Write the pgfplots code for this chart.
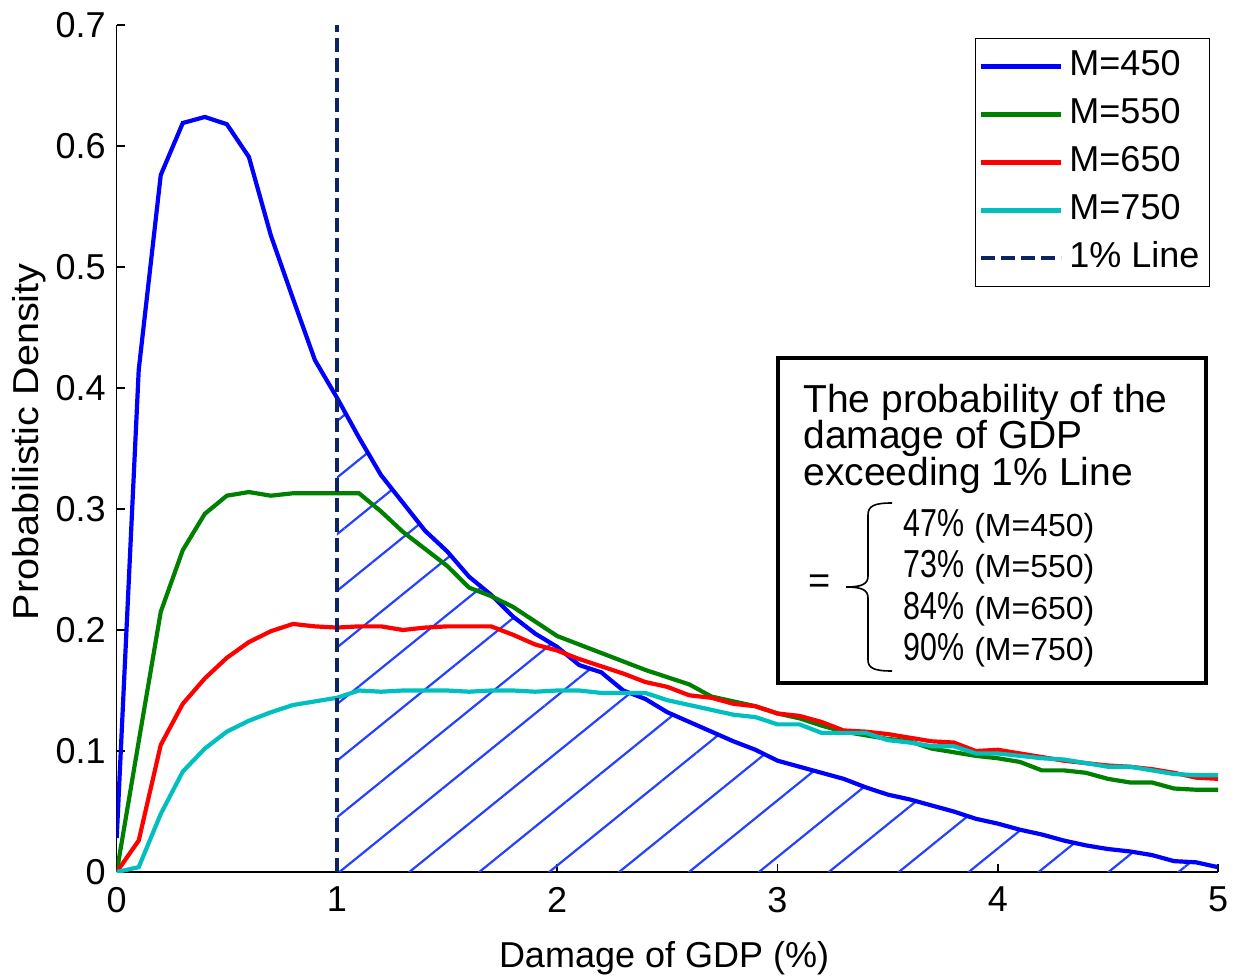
\documentclass[border=0pt]{standalone}
\usepackage{fontspec}
\setmainfont{Liberation Sans}
\newfontfamily\narrowfont[FakeStretch=0.78]{Liberation Sans}
\newfontfamily\ylfont[FakeStretch=1.1]{Liberation Sans}
\usepackage{pgfplots}
\usepackage{pgfplotstable}
\pgfplotsset{compat=1.18}
\usepgfplotslibrary{fillbetween}
\usetikzlibrary{patterns.meta}
\definecolor{cblue}{rgb}{0,0,1}
\definecolor{cgreen}{rgb}{0,0.5,0}
\definecolor{cred}{rgb}{1,0,0}
\definecolor{ccyan}{rgb}{0,0.75,0.75}
\definecolor{navy}{RGB}{12,35,100}
\definecolor{hatchc}{RGB}{35,65,255}

\pgfplotstableread{
x y
0.0 0.028
0.1 0.415
0.2 0.576
0.3 0.619
0.4 0.624
0.5 0.618
0.6 0.591
0.7 0.526
0.8 0.474
0.9 0.423
1.0 0.392
1.1 0.359
1.2 0.328
1.3 0.305
1.4 0.282
1.5 0.265
1.6 0.244
1.7 0.229
1.8 0.211
1.9 0.197
2.0 0.186
2.1 0.171
2.2 0.165
2.3 0.150
2.4 0.143
2.5 0.132
2.6 0.124
2.7 0.116
2.8 0.108
2.9 0.101
3.0 0.092
3.1 0.087
3.2 0.082
3.3 0.077
3.4 0.070
3.5 0.064
3.6 0.060
3.7 0.055
3.8 0.050
3.9 0.044
4.0 0.040
4.1 0.035
4.2 0.031
4.3 0.026
4.4 0.022
4.5 0.019
4.6 0.017
4.7 0.014
4.8 0.009
4.9 0.008
5.0 0.004
}\tblA

\pgfplotstableread{
x y
0.0 0.000
0.1 0.108
0.2 0.215
0.3 0.266
0.4 0.296
0.5 0.311
0.6 0.314
0.7 0.311
0.8 0.313
0.9 0.313
1.0 0.313
1.1 0.313
1.2 0.298
1.3 0.281
1.4 0.267
1.5 0.253
1.6 0.235
1.7 0.228
1.8 0.219
1.9 0.207
2.0 0.195
2.1 0.188
2.2 0.181
2.3 0.174
2.4 0.167
2.5 0.161
2.6 0.155
2.7 0.145
2.8 0.141
2.9 0.137
3.0 0.131
3.1 0.127
3.2 0.121
3.3 0.116
3.4 0.113
3.5 0.110
3.6 0.108
3.7 0.102
3.8 0.099
3.9 0.096
4.0 0.094
4.1 0.091
4.2 0.084
4.3 0.084
4.4 0.082
4.5 0.077
4.6 0.074
4.7 0.074
4.8 0.069
4.9 0.068
5.0 0.068
}\tblB

\pgfplotstableread{
x y
0.0 0.000
0.1 0.026
0.2 0.105
0.3 0.139
0.4 0.160
0.5 0.177
0.6 0.190
0.7 0.199
0.8 0.205
0.9 0.203
1.0 0.202
1.1 0.203
1.2 0.203
1.3 0.200
1.4 0.202
1.5 0.203
1.6 0.203
1.7 0.203
1.8 0.196
1.9 0.188
2.0 0.183
2.1 0.176
2.2 0.170
2.3 0.164
2.4 0.157
2.5 0.153
2.6 0.146
2.7 0.144
2.8 0.139
2.9 0.137
3.0 0.131
3.1 0.129
3.2 0.124
3.3 0.117
3.4 0.116
3.5 0.114
3.6 0.111
3.7 0.108
3.8 0.107
3.9 0.100
4.0 0.101
4.1 0.098
4.2 0.095
4.3 0.092
4.4 0.090
4.5 0.088
4.6 0.087
4.7 0.085
4.8 0.082
4.9 0.078
5.0 0.077
}\tblC

\pgfplotstableread{
x y
0.0 0.000
0.1 0.004
0.2 0.048
0.3 0.083
0.4 0.102
0.5 0.116
0.6 0.125
0.7 0.132
0.8 0.138
0.9 0.141
1.0 0.144
1.1 0.150
1.2 0.149
1.3 0.150
1.4 0.150
1.5 0.150
1.6 0.149
1.7 0.150
1.8 0.150
1.9 0.149
2.0 0.150
2.1 0.150
2.2 0.148
2.3 0.148
2.4 0.148
2.5 0.142
2.6 0.138
2.7 0.134
2.8 0.130
2.9 0.128
3.0 0.122
3.1 0.122
3.2 0.115
3.3 0.115
3.4 0.115
3.5 0.109
3.6 0.107
3.7 0.104
3.8 0.104
3.9 0.098
4.0 0.098
4.1 0.096
4.2 0.094
4.3 0.093
4.4 0.090
4.5 0.087
4.6 0.087
4.7 0.084
4.8 0.081
4.9 0.080
5.0 0.080
}\tblD

\begin{document}
\begin{tikzpicture}
\begin{axis}[
  name=ax,
  scale only axis,
  width=550.65bp, height=423.5bp,
  xmin=0, xmax=5, ymin=0, ymax=0.7,
  axis x line=bottom, axis y line=left,
  axis line style={-, line width=0.75bp, black},
  tick align=inside,
  major tick length=4bp,
  tick style={black, line width=0.75bp},
  xtick={0,1,2,3,4,5},
  xticklabels={0,1,2,3,4,5},
  ytick={0,0.1,0.2,0.3,0.4,0.5,0.6,0.7},
  yticklabels={0,0.1,0.2,0.3,0.4,0.5,0.6,0.7},
  /pgf/number format/assume math mode=true,
  ticklabel style={font=\fontsize{18bp}{21bp}\selectfont},
  yticklabel style={xshift=-2bp},
  xticklabel style={yshift=-4bp},
  xlabel={Damage of GDP (\%)},
  ylabel={\ylfont Probabilistic Density},
  label style={font=\fontsize{18bp}{21bp}\selectfont},
  xlabel style={at={(axis description cs:0.497,-0.1133)}, anchor=base},
  ylabel style={at={(axis description cs:-0.0706,0.508)}, anchor=base},
  legend image code/.code={\draw[#1] (0bp,0bp) -- (40bp,0bp);},
  legend cell align=left,
  legend style={at={(axis description cs:0.993,0.985)}, anchor=north east,
    draw=black, line width=0.75bp,
    font=\fontsize{18bp}{20bp}\selectfont,
    inner xsep=2bp, inner ysep=2bp, row sep=0bp,
    nodes={inner sep=3bp, text height=13.5bp, text depth=4.5bp}},
]
\addplot[draw=none, name path=bluep, forget plot] table {\tblA};
\path[name path=botp] (axis cs:0,0) -- (axis cs:5,0);
\addplot[draw=none, pattern={Lines[angle=39,distance=22bp,line width=1.1bp]}, pattern color=hatchc, forget plot]
  fill between[of=bluep and botp, soft clip={domain=1:5}];
\addplot[cblue, line width=2.1bp] table {\tblA};
\addlegendentry{M=450}
\addplot[cgreen, line width=2.1bp] table {\tblB};
\addlegendentry{M=550}
\addplot[cred, line width=2.1bp] table {\tblC};
\addlegendentry{M=650}
\addplot[ccyan, line width=2.1bp] table {\tblD};
\addlegendentry{M=750}
\addplot[navy, line width=2bp, dash pattern=on 7bp off 3bp] coordinates {(1,0) (1,0.7)};
\addlegendentry{1\% Line}
\end{axis}
\begin{scope}[shift={(ax.south west)}, x=0.5bp, y=-0.5bp, shift={(-116.7,-872)}]
\draw[line width=2bp, fill=white] (778,358) rectangle (1206,683);
\begin{scope}[every node/.style={anchor=base west, inner sep=0pt, font=\fontsize{19.5bp}{22bp}\selectfont}]
\node at (803,412) {The probability of the};
\node at (803,448.6) {damage of GDP};
\node at (803,485.4) {exceeding 1\% Line};
\node at (903,536) {{\narrowfont 47\%}\hspace{5bp}{\fontsize{16bp}{19bp}\selectfont (M=450)}};
\node at (903,577.6) {{\narrowfont 73\%}\hspace{5bp}{\fontsize{16bp}{19bp}\selectfont (M=550)}};
\node at (903,619.6) {{\narrowfont 84\%}\hspace{5bp}{\fontsize{16bp}{19bp}\selectfont (M=650)}};
\node at (903,660.7) {{\narrowfont 90\%}\hspace{5bp}{\fontsize{16bp}{19bp}\selectfont (M=750)}};
\end{scope}
\node[anchor=center, inner sep=0pt, font=\fontsize{19bp}{22bp}\selectfont] at (820,584) {=};
\draw[line width=0.8bp] (892,503) .. controls (874,503) and (868,506) .. (868,515) -- (868,576)
  .. controls (868,584) and (862,587) .. (846,587) .. controls (862,587) and (868,590) .. (868,598)
  -- (868,660) .. controls (868,668) and (874,671) .. (892,671);
\pgfresetboundingbox
\path[use as bounding box] (0,0) rectangle (1234,977);
\end{scope}
\end{tikzpicture}
\end{document}
